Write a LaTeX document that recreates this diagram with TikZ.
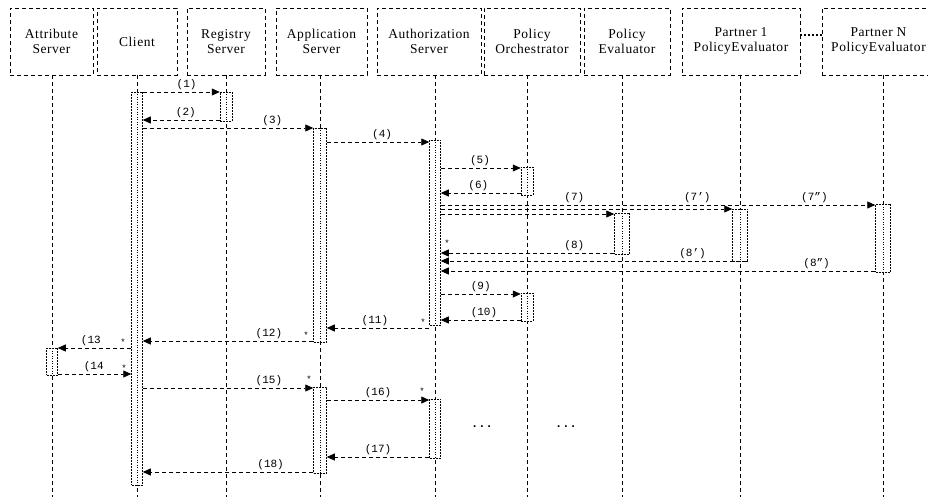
\documentclass[tikz,border=0pt]{standalone}
\usepackage{fontspec}
\setmainfont{Liberation Serif}
\newfontfamily\headfont[LetterSpace=4]{Liberation Serif}
\newfontfamily\msgfont{Liberation Mono}
\usetikzlibrary{arrows.meta}

\begin{document}
\begin{tikzpicture}[x=1pt,y=-1pt,
  head/.style={draw,dash pattern=on 4pt off 3pt,line width=0.7pt,minimum height=67pt,
    align=center,inner sep=2pt,font=\headfont\fontsize{13.5}{15}\selectfont},
  life/.style={dash pattern=on 4pt off 3pt,line width=0.7pt},
  bar/.style={draw,fill=white,dash pattern=on 2pt off 1pt,line width=0.5pt,
    minimum width=#1,inner sep=0pt,
    path picture={\draw[dash pattern=on 1pt off 1.5pt,line width=0.5pt]
      (path picture bounding box.north) -- (path picture bounding box.south);}},
  bar/.default=12pt,
  msg/.style={dash pattern=on 4pt off 3pt,line width=0.8pt,-{Triangle[length=8pt,width=7pt]}},
  lbl/.style={above,inner sep=1.5pt,font=\msgfont\fontsize{11}{12}\selectfont},
  ast/.style={inner sep=0pt,font=\msgfont\fontsize{9}{9}\selectfont},
  more/.style={inner sep=0pt,font=\msgfont\bfseries\fontsize{12}{12}\selectfont}]
  \useasboundingbox (0,0) rectangle (928,497);

  \node[head,minimum width=83pt] (attr) at (51.5,41.5) {Attribute\\Server};
  \node[head,minimum width=80pt] (client) at (137,41.5) {Client};
  \node[head,minimum width=78pt] (reg) at (226,41.5) {Registry\\Server};
  \node[head,minimum width=91pt] (app) at (321.5,41.5) {Application\\Server};
  \node[head,minimum width=104pt] (auth) at (429,41.5) {Authorization\\Server};
  \node[head,minimum width=96pt] (orch) at (532,41.5) {Policy\\Orchestrator};
  \node[head,minimum width=86pt] (eval) at (627,41.5) {Policy\\Evaluator};
  \node[head,minimum width=118pt] (pone) at (741,41.5) {Partner 1\\PolicyEvaluator};
  \node[head,minimum width=113pt] (pn) at (878.5,41.5) {Partner N\\PolicyEvaluator};
  \draw[line width=1.2pt,dash pattern=on 1.2pt off 2.8pt] (pone.east |- 0,35) -- (pn.west |- 0,35);

  \draw[life] (attr.south -| 52,0) -- (52,497);
  \draw[life] (client.south -| 137,0) -- (137,497);
  \draw[life] (reg.south -| 226,0) -- (226,497);
  \draw[life] (app.south -| 320,0) -- (320,497);
  \draw[life] (auth.south -| 435,0) -- (435,497);
  \draw[life] (orch.south -| 527,0) -- (527,497);
  \draw[life] (eval.south -| 622,0) -- (622,497);
  \draw[life] (pone.south -| 740,0) -- (740,497);
  \draw[life] (pn.south -| 883,0) -- (883,497);

  \node[bar=11pt,minimum height=393pt] (cl1) at (137,288.5) {};
  \node[bar,minimum height=29pt] (rg1) at (226,106.5) {};
  \node[bar=13pt,minimum height=214pt] (ap1) at (320,235) {};
  \node[bar=11pt,minimum height=185pt] (au1) at (435,232.5) {};
  \node[bar,minimum height=28pt] (po1) at (527,181) {};
  \node[bar,minimum height=28pt] (po2) at (527,307) {};
  \node[bar=15pt,minimum height=41pt] (pe1) at (622,233.5) {};
  \node[bar=15pt,minimum height=52pt] (p11) at (740,235) {};
  \node[bar=15pt,minimum height=68pt] (pn1) at (883,238) {};
  \node[bar=11pt,minimum height=27pt] (at1) at (52,361.5) {};
  \node[bar=13pt,minimum height=86pt] (ap2) at (320,430) {};
  \node[bar=11pt,minimum height=59pt] (au2) at (435,428.5) {};

  \draw[msg] (cl1.east |- 0,92) -- node[lbl,pos=0.57] {(1)} (rg1.west |- 0,92);
  \draw[msg] (rg1.west |- 0,120) -- node[lbl,pos=0.44] {(2)} (cl1.east |- 0,120);
  \draw[msg] (cl1.east |- 0,128) -- node[lbl,pos=0.76] {(3)} (ap1.west |- 0,128);
  \draw[msg] (ap1.east |- 0,142) -- node[lbl,pos=0.54] {(4)} (au1.west |- 0,142);
  \draw[msg] (au1.east |- 0,168) -- node[lbl,pos=0.49] {(5)} (po1.west |- 0,168);
  \draw[msg] (po1.west |- 0,193) -- node[lbl,pos=0.53] {(6)} (au1.east |- 0,193);
  \draw[msg] (au1.east |- 0,205) -- node[lbl,pos=0.86] {(7”)} (pn1.west |- 0,205);
  \draw[msg] (au1.east |- 0,209) -- node[lbl,pos=0.88,yshift=4pt] {(7’)} (p11.west |- 0,209);
  \draw[msg] (au1.east |- 0,214) -- node[lbl,pos=0.77,yshift=9pt] {(7)} (pe1.west |- 0,214);
  \draw[msg] (pe1.west |- 0,253) -- node[lbl,pos=0.23] {(8)} (au1.east |- 0,253);
  \draw[msg] (p11.east |- 0,261) -- node[lbl,pos=0.18] {(8’)} (au1.east |- 0,261);
  \draw[msg] (pn1.west |- 0,271) -- node[lbl,pos=0.135] {(8”)} (au1.east |- 0,271);
  \draw[msg] (au1.east |- 0,294) -- node[lbl,pos=0.5] {(9)} (po2.west |- 0,294);
  \draw[msg] (po2.west |- 0,320) -- node[lbl,pos=0.46] {(10)} (au1.east |- 0,320);
  \draw[msg] (au1.west |- 0,328) -- node[lbl,pos=0.53] {(11)} (ap1.east |- 0,328);
  \draw[msg] (ap1.west |- 0,341) -- node[lbl,pos=0.26] {(12)} (cl1.east |- 0,341);
  \draw[msg] (cl1.west |- 0,348) -- node[lbl,pos=0.55] {(13} (at1.east |- 0,348);
  \draw[msg] (at1.east |- 0,374) -- node[lbl,pos=0.49] {(14} (cl1.west |- 0,374);
  \draw[msg] (cl1.east |- 0,388) -- node[lbl,pos=0.74] {(15)} (ap2.west |- 0,388);
  \draw[msg] (ap2.east |- 0,400) -- node[lbl,pos=0.5] {(16)} (au2.west |- 0,400);
  \draw[msg] (au2.west |- 0,457) -- node[lbl,pos=0.5] {(17)} (ap2.east |- 0,457);
  \draw[msg] (ap2.west |- 0,472) -- node[lbl,pos=0.25] {(18)} (cl1.east |- 0,472);

  \node[ast] (s8) at (447,243) {*};
  \node[ast] (s11) at (423,322) {*};
  \node[ast] (s12) at (306,335) {*};
  \node[ast] (s13) at (123,342) {*};
  \node[ast] (s14) at (124,368) {*};
  \node[ast] (s15) at (309,379) {*};
  \node[ast] (s16) at (422,391) {*};

  \node[more] (etc1) at (482,427) {...};
  \node[more] (etc2) at (566,427) {...};
\end{tikzpicture}
\end{document}
